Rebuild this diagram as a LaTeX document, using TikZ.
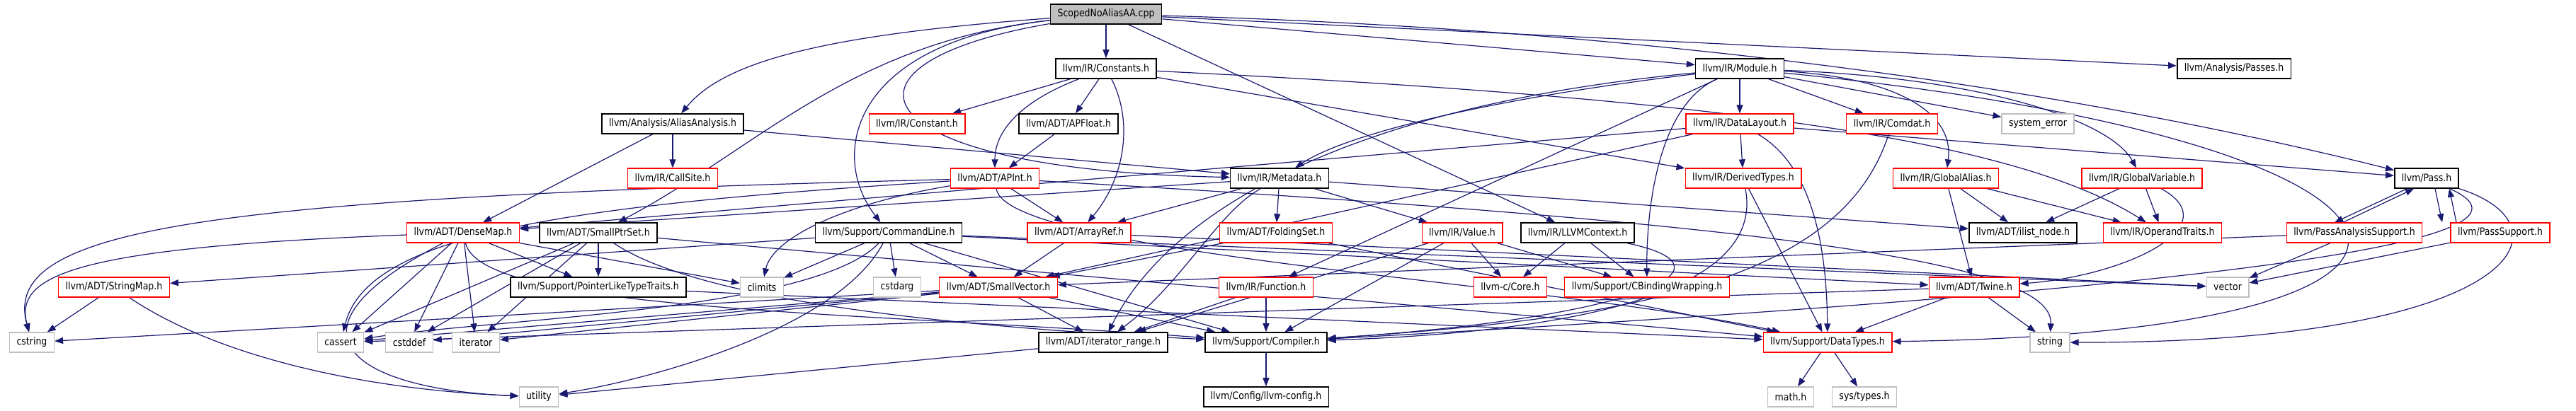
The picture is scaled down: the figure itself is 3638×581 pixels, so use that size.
\documentclass[tikz,border=0pt]{standalone}
\usepackage{fontspec}
\setmainfont{DejaVu Sans}[FakeStretch=0.87]
\definecolor{edgeblue}{HTML}{191970}
\definecolor{truncred}{HTML}{FF0000}
\definecolor{sysgray}{HTML}{BFBFBF}
\usetikzlibrary{arrows.meta, backgrounds}

\begin{document}
\begin{tikzpicture}[x=0.5pt, y=-0.5pt,
  hdr/.style={draw, fill=white, line width=0.65pt, font=\fontsize{7.2}{8}\selectfont,
              minimum height=14pt, inner xsep=5pt, inner ysep=0pt},
  doc/.style={hdr, draw=black, line width=0.8pt},
  trunc/.style={hdr, draw=truncred},
  sys/.style={hdr, draw=sysgray},
  root/.style={hdr, draw=black, fill=sysgray, line width=0.8pt},
  inc/.style={draw=edgeblue, line width=0.6pt, -{Triangle[length=6pt,width=4.5pt]}},
]
\useasboundingbox (0,0) rectangle (3638,581);

\node[root] (scoped) at (1562,20) {ScopedNoAliasAA.cpp};

\node[doc] (aa) at (950,175) {llvm/Analysis/AliasAnalysis.h};
\node[doc] (constants) at (1562,97) {llvm/IR/Constants.h};
\node[doc] (module) at (2457,97) {llvm/IR/Module.h};
\node[doc] (passes) at (3155,97) {llvm/Analysis/Passes.h};

\node[trunc] (callsite) at (950,252) {llvm/IR/CallSite.h};
\node[trunc] (constant) at (1295,175) {llvm/IR/Constant.h};
\node[doc] (apfloat) at (1509,175) {llvm/ADT/APFloat.h};
\node[trunc] (datalayout) at (2457,175) {llvm/IR/DataLayout.h};
\node[trunc] (comdat) at (2672,175) {llvm/IR/Comdat.h};
\node[sys] (syserr) at (2878,175) {system\_error};

\node[trunc] (apint) at (1405,252) {llvm/ADT/APInt.h};
\node[doc] (metadata) at (1807,252) {llvm/IR/Metadata.h};
\node[trunc] (derived) at (2462,252) {llvm/IR/DerivedTypes.h};
\node[trunc] (galias) at (2748,252) {llvm/IR/GlobalAlias.h};
\node[trunc] (gvar) at (3025,252) {llvm/IR/GlobalVariable.h};
\node[doc] (pass) at (3427,252) {llvm/Pass.h};

\node[trunc] (densemap) at (654,329) {llvm/ADT/DenseMap.h};
\node[doc] (smallptrset) at (845,329) {llvm/ADT/SmallPtrSet.h};
\node[doc] (cmdline) at (1255,329) {llvm/Support/CommandLine.h};
\node[trunc] (arrayref) at (1524,329) {llvm/ADT/ArrayRef.h};
\node[trunc] (foldingset) at (1802,329) {llvm/ADT/FoldingSet.h};
\node[trunc] (value) at (2065,329) {llvm/IR/Value.h};
\node[doc] (llvmctx) at (2228,329) {llvm/IR/LLVMContext.h};
\node[doc] (ilist) at (2857,329) {llvm/ADT/ilist\_node.h};
\node[trunc] (optraits) at (3054,329) {llvm/IR/OperandTraits.h};
\node[trunc] (pas) at (3325,329) {llvm/PassAnalysisSupport.h};
\node[trunc] (passsupport) at (3531,329) {llvm/PassSupport.h};

\node[trunc] (stringmap) at (161,406) {llvm/ADT/StringMap.h};
\node[doc] (pltt) at (845,406) {llvm/Support/PointerLikeTypeTraits.h};
\node[sys] (climits) at (1076,406) {climits};
\node[sys] (cstdarg) at (1267,406) {cstdarg};
\node[trunc] (smallvec) at (1410,406) {llvm/ADT/SmallVector.h};
\node[trunc] (function) at (1788,406) {llvm/IR/Function.h};
\node[trunc] (core) at (2133,406) {llvm-c/Core.h};
\node[trunc] (cbw) at (2326,406) {llvm/Support/CBindingWrapping.h};
\node[trunc] (twine) at (2788,406) {llvm/ADT/Twine.h};
\node[sys] (vector) at (3146,406) {vector};

\node[sys] (cstring) at (45,484) {cstring};
\node[sys] (cassert) at (481,484) {cassert};
\node[sys] (cstddef) at (578,484) {cstddef};
\node[sys] (iterator) at (672,484) {iterator};
\node[doc] (itrange) at (1558,484) {llvm/ADT/iterator\_range.h};
\node[doc] (compiler) at (1788,484) {llvm/Support/Compiler.h};
\node[trunc] (datatypes) at (2581,484) {llvm/Support/DataTypes.h};
\node[sys] (string) at (2895,484) {string};

\node[sys] (utility) at (761,561) {utility};
\node[doc] (llvmconfig) at (1788,561) {llvm/Config/llvm-config.h};
\node[sys] (mathh) at (2529,561) {math.h};
\node[sys] (systypes) at (2633,561) {sys/types.h};

\begin{scope}[on background layer]
% ScopedNoAliasAA.cpp
\draw[inc] (scoped) .. controls (1150,50) and (1020,90) .. (aa);
\draw[inc] (scoped) -- (constants);
\draw[inc] (scoped) -- (module);
\draw[inc] (scoped) -- (passes);
\draw[inc] (scoped) .. controls (2300,40) and (2900,120) .. (pass);
\draw[inc] (scoped) .. controls (1150,90) and (1210,240) .. (metadata);
\draw[inc] (scoped) .. controls (1200,60) and (1170,220) .. (cmdline);
\draw[inc] (scoped) .. controls (1200,60) and (1070,210) .. (smallptrset);
\draw[inc] (scoped) -- (llvmctx);
% AliasAnalysis.h
\draw[inc] (aa) -- (callsite);
\draw[inc] (aa) -- (metadata);
\draw[inc] (aa) -- (densemap);
% Constants.h
\draw[inc] (constants) -- (constant);
\draw[inc] (constants) -- (apfloat);
\draw[inc] (constants) .. controls (1450,140) and (1405,180) .. (apint);
\draw[inc] (constants) .. controls (1600,170) and (1590,250) .. (arrayref);
\draw[inc] (constants) -- (derived);
\draw[inc] (constants) .. controls (2450,140) and (2850,200) .. (optraits);
% Module.h
\draw[inc] (module) -- (datalayout);
\draw[inc] (module) -- (comdat);
\draw[inc] (module) -- (syserr);
\draw[inc] (module) .. controls (2100,140) and (1900,190) .. (metadata);
\draw[inc] (module) .. controls (2680,110) and (2760,160) .. (galias);
\draw[inc] (module) .. controls (2800,110) and (2980,170) .. (gvar);
\draw[inc] (module) -- (function);
\draw[inc] (module) .. controls (1900,150) and (1650,300) .. (itrange);
\draw[inc] (module) .. controls (2340,150) and (2325,300) .. (cbw);
\draw[inc] (module) .. controls (3500,200) and (3600,470) .. (datatypes);
% DataLayout.h
\draw[inc] (datalayout) -- (derived);
\draw[inc] (datalayout) -- (pass);
\draw[inc] (datalayout) .. controls (2570,240) and (2580,380) .. (datatypes);
\draw[inc] (datalayout) -- (smallvec);
\draw[inc] (datalayout) -- (densemap);
\draw[inc] (comdat) .. controls (2600,400) and (2300,450) .. (compiler);
\draw[inc] (apfloat) -- (apint);
% APInt.h
\draw[inc] (apint) -- (arrayref);
\draw[inc] (apint) .. controls (800,290) and (520,330) .. (cassert);
\draw[inc] (apint) .. controls (1180,290) and (1090,340) .. (climits);
\draw[inc] (apint) .. controls (300,280) and (0,320) .. (cstring);
\draw[inc] (apint) .. controls (2600,320) and (2900,380) .. (string);
\draw[inc] (apint) .. controls (1420,360) and (2200,400) .. (datatypes);
% Metadata.h
\draw[inc] (metadata) -- (arrayref);
\draw[inc] (metadata) -- (foldingset);
\draw[inc] (metadata) -- (value);
\draw[inc] (metadata) -- (densemap);
\draw[inc] (metadata) -- (ilist);
\draw[inc] (metadata) .. controls (1720,300) and (1670,400) .. (itrange);
% CommandLine.h
\draw[inc] (cmdline) -- (stringmap);
\draw[inc] (cmdline) -- (climits);
\draw[inc] (cmdline) -- (cstdarg);
\draw[inc] (cmdline) -- (smallvec);
\draw[inc] (cmdline) -- (compiler);
\draw[inc] (cmdline) .. controls (1150,440) and (700,450) .. (cassert);
\draw[inc] (cmdline) .. controls (1180,470) and (900,540) .. (utility);
\draw[inc] (cmdline) -- (vector);
\draw[inc] (cmdline) -- (twine);
% DenseMap.h
\draw[inc] (densemap) .. controls (100,350) and (20,390) .. (cstring);
\draw[inc] (densemap) -- (cassert);
\draw[inc] (densemap) -- (cstddef);
\draw[inc] (densemap) -- (iterator);
\draw[inc] (densemap) .. controls (380,470) and (500,550) .. (utility);
\draw[inc] (densemap) -- (climits);
\draw[inc] (densemap) -- (pltt);
\draw[inc] (densemap) .. controls (680,440) and (1200,440) .. (compiler);
% SmallPtrSet.h
\draw[inc] (smallptrset) -- (pltt);
\draw[inc] (smallptrset) -- (cassert);
\draw[inc] (smallptrset) -- (cstddef);
\draw[inc] (smallptrset) -- (iterator);
\draw[inc] (smallptrset) .. controls (980,420) and (1300,460) .. (compiler);
\draw[inc] (smallptrset) -- (datatypes);
\draw[inc] (stringmap) -- (cstring);
\draw[inc] (stringmap) .. controls (300,500) and (500,550) .. (utility);
\draw[inc] (pltt) -- (datatypes);
% SmallVector.h
\draw[inc] (smallvec) -- (itrange);
\draw[inc] (smallvec) -- (compiler);
\draw[inc] (smallvec) -- (cassert);
\draw[inc] (smallvec) -- (cstddef);
\draw[inc] (smallvec) -- (iterator);
\draw[inc] (smallvec) -- (cstring);
\draw[inc] (arrayref) -- (smallvec);
\draw[inc] (arrayref) -- (vector);
\draw[inc] (foldingset) -- (smallvec);
\draw[inc] (foldingset) -- (datatypes);
% Value.h, LLVMContext.h, Function.h
\draw[inc] (value) -- (itrange);
\draw[inc] (value) -- (compiler);
\draw[inc] (value) -- (core);
\draw[inc] (value) -- (cbw);
\draw[inc] (llvmctx) -- (core);
\draw[inc] (llvmctx) -- (cbw);
\draw[inc] (llvmctx) .. controls (2470,380) and (2300,450) .. (compiler);
\draw[inc] (function) -- (itrange);
\draw[inc] (function) -- (compiler);
\draw[inc] (derived) .. controls (2495,420) and (2200,470) .. (compiler);
\draw[inc] (derived) -- (datatypes);
% Twine.h, GlobalAlias.h, GlobalVariable.h
\draw[inc] (twine) -- (string);
\draw[inc] (twine) -- (datatypes);
\draw[inc] (twine) -- (cassert);
\draw[inc] (galias) -- (ilist);
\draw[inc] (galias) -- (optraits);
\draw[inc] (galias) -- (twine);
\draw[inc] (gvar) -- (ilist);
\draw[inc] (gvar) -- (optraits);
\draw[inc] (gvar) .. controls (3150,320) and (3000,390) .. (twine);
% Pass.h
\draw[inc] ([xshift=-14pt]pass.south) -- ([xshift=-14pt]pas.north);
\draw[inc] ([xshift=-8pt]pas.north) -- ([xshift=-9pt]pass.south);
\draw[inc] ([xshift=6pt]pass.south) -- ([xshift=-41pt]passsupport.north);
\draw[inc] ([xshift=-31pt]passsupport.north) -- ([xshift=16pt]pass.south);
\draw[inc] (pass) .. controls (3600,330) and (3300,400) .. (compiler);
\draw[inc] (pass) .. controls (3640,320) and (3560,485) .. (string);
\draw[inc] (pas) -- (vector);
\draw[inc] (pas) -- (smallvec);
\draw[inc] (passsupport) -- (vector);
% leaves
\draw[inc] (datatypes) -- (mathh);
\draw[inc] (datatypes) -- (systypes);
\draw[inc] (compiler) -- (llvmconfig);
\draw[inc] (itrange) -- (utility);
\end{scope}
\end{tikzpicture}
\end{document}
